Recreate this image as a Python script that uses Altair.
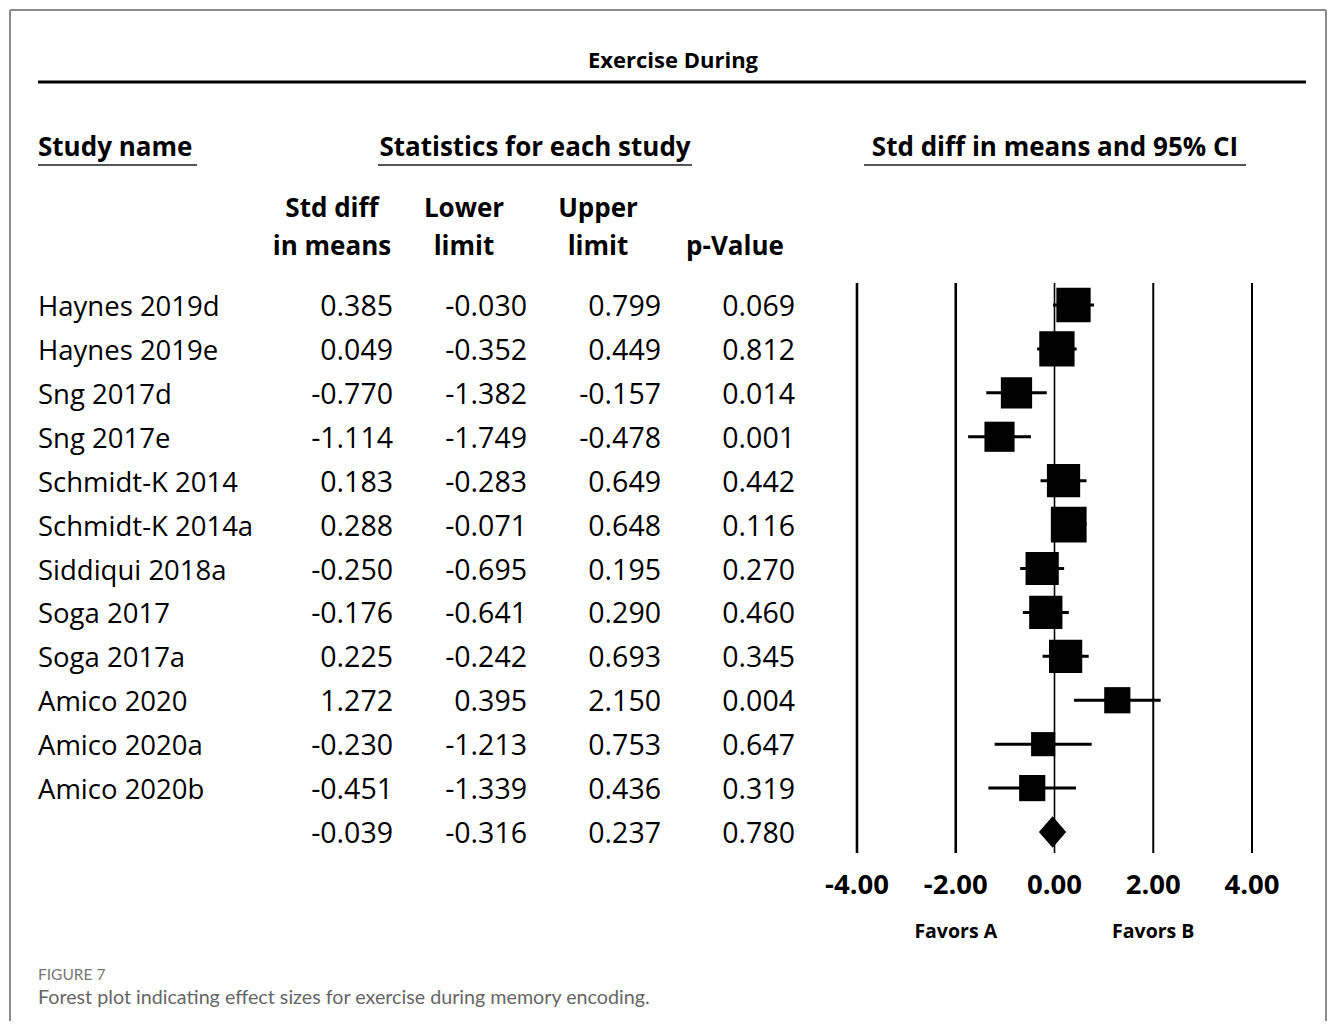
import altair as alt
import pandas as pd

# ---------------- data ----------------
studies = ["Haynes 2019d", "Haynes 2019e", "Sng 2017d", "Sng 2017e", "Schmidt-K 2014",
           "Schmidt-K 2014a", "Siddiqui 2018a", "Soga 2017", "Soga 2017a", "Amico 2020",
           "Amico 2020a", "Amico 2020b"]
std_diff = [0.385, 0.049, -0.770, -1.114, 0.183, 0.288, -0.250, -0.176, 0.225, 1.272, -0.230, -0.451]
lower = [-0.030, -0.352, -1.382, -1.749, -0.283, -0.071, -0.695, -0.641, -0.242, 0.395, -1.213, -1.339]
upper = [0.799, 0.449, -0.157, -0.478, 0.649, 0.648, 0.195, 0.290, 0.693, 2.150, 0.753, 0.436]
p_value = [0.069, 0.812, 0.014, 0.001, 0.442, 0.116, 0.270, 0.460, 0.345, 0.004, 0.647, 0.319]
# relative weights (%)
weights = [10.1, 10.7, 8.4, 7.8, 9.5, 11.0, 9.5, 9.5, 9.5, 5.9, 5.0, 5.9]

summary_est = -0.039
summary_lower = -0.316
summary_upper = 0.237
summary_p = 0.780

tick_values = [-4, -2, 0, 2, 4]
tick_labels = ["-4.00", "-2.00", "0.00", "2.00", "4.00"]
favor_values = [-2, 2]
favor_labels = ["Favors A", "Favors B"]

title_text = "Exercise During"
caption_label = "FIGURE 7"
caption_text = "Forest plot indicating effect sizes for exercise during memory encoding."

# ---------------- layout constants ----------------
W, H = 1319, 1013
FONT = "Open Sans"
ROW_RANGE = [297, 824]
X_RANGE = [849, 1244]

def fmt(v):
    return f"{v:.3f}"

n = len(studies)
df = pd.DataFrame({
    "row": list(range(n)),
    "study": studies,
    "est": std_diff,
    "lo": lower,
    "hi": upper,
    "p": p_value,
    "w": weights,
})
df["est_s"] = [fmt(v) for v in df["est"]]
df["lo_s"] = [fmt(v) for v in df["lo"]]
df["hi_s"] = [fmt(v) for v in df["hi"]]
df["p_s"] = [fmt(v) for v in df["p"]]

summ = pd.DataFrame({
    "row": [n], "study": [""],
    "est_s": [fmt(summary_est)], "lo_s": [fmt(summary_lower)],
    "hi_s": [fmt(summary_upper)], "p_s": [fmt(summary_p)],
})
table = pd.concat([df[["row", "study", "est_s", "lo_s", "hi_s", "p_s"]], summ], ignore_index=True)

HALF = 0.36
diamond = pd.DataFrame({
    "x": [summary_lower, summary_est, summary_upper],
    "y1": [n, n - HALF, n],
    "y2": [n, n + HALF, n],
})

ticks = pd.DataFrame({"t": tick_values, "lab": tick_labels,
                      "sw": [2.6, 2.6, 1.6, 2.0, 2.0]})
favors = pd.DataFrame({"t": favor_values, "lab": favor_labels})

xs = alt.Scale(domain=[-4, 4], range=X_RANGE, zero=False, nice=False)
ys = alt.Scale(domain=[0, n], range=ROW_RANGE, zero=False, nice=False)

base = alt.Chart(df)

# --- forest plot ---
grid = alt.Chart(ticks).mark_rule(color="black").encode(
    x=alt.X("t:Q", scale=xs, axis=None), y=alt.value(275), y2=alt.value(845),
    strokeWidth=alt.StrokeWidth("sw:Q", scale=None, legend=None))
ci = base.mark_rule(color="black", strokeWidth=3).encode(
    x=alt.X("lo:Q", scale=xs, axis=None), x2="hi:Q",
    y=alt.Y("row:Q", scale=ys, axis=None))
boxes = base.mark_square(color="black", filled=True, opacity=1).encode(
    x=alt.X("est:Q", scale=xs, axis=None),
    y=alt.Y("row:Q", scale=ys, axis=None),
    size=alt.Size("w:Q", scale=alt.Scale(domain=[0, 11.0], range=[0, 1280]), legend=None))
dia = alt.Chart(diamond).mark_area(color="black", opacity=1).encode(
    x=alt.X("x:Q", scale=xs, axis=None),
    y=alt.Y("y1:Q", scale=ys, axis=None), y2="y2:Q")
tick_text = alt.Chart(ticks).mark_text(font=FONT, fontSize=27.5, fontWeight="bold",
                                       baseline="alphabetic", align="center").encode(
    x=alt.X("t:Q", scale=xs, axis=None), y=alt.value(886), text="lab:N")
fav_text = alt.Chart(favors).mark_text(font=FONT, fontSize=19.5, fontWeight="bold",
                                       baseline="alphabetic", align="center").encode(
    x=alt.X("t:Q", scale=xs, axis=None), y=alt.value(930), text="lab:N")

# --- table ---
def col(field, xpos, align, size):
    return alt.Chart(table).mark_text(font=FONT, fontSize=size, align=align,
                                      baseline="alphabetic", dy=11, color="black").encode(
        x=alt.value(xpos), y=alt.Y("row:Q", scale=ys, axis=None), text=f"{field}:N")

name_col = col("study", 30, "left", 27.5)
est_col = col("est_s", 385, "right", 28.5)
lo_col = col("lo_s", 519, "right", 28.5)
hi_col = col("hi_s", 653, "right", 28.5)
p_col = col("p_s", 787, "right", 28.5)

def label(txt, x, y, size=26, align="center", weight="bold", color="black", font=FONT):
    return alt.Chart(pd.DataFrame({"t": [txt]})).mark_text(
        font=font, fontSize=size, fontWeight=weight, align=align,
        baseline="alphabetic", color=color).encode(
        x=alt.value(x), y=alt.value(y), text="t:N")

def hline(x1, x2, y, width, color):
    return alt.Chart(pd.DataFrame({"a": [0]})).mark_rule(color=color, strokeWidth=width).encode(
        x=alt.value(x1), x2=alt.value(x2), y=alt.value(y))

def vline(x, y1, y2, width, color):
    return alt.Chart(pd.DataFrame({"a": [0]})).mark_rule(color=color, strokeWidth=width).encode(
        x=alt.value(x), y=alt.value(y1), y2=alt.value(y2))

headers = [
    label(title_text, 665, 60, size=22),
    hline(30, 1298, 74, 3, "black"),
    label("Study name", 30, 148, align="left"),
    hline(30, 189, 157, 2, "#555555"),
    label("Statistics for each study", 527, 148),
    hline(370, 684, 157, 2, "#555555"),
    label("Std diff in means and 95% CI", 1047, 148),
    hline(856, 1238, 157, 2, "#555555"),
    label("Std diff", 324, 209),
    label("in means", 324, 247),
    label("Lower", 456, 209),
    label("limit", 456, 247),
    label("Upper", 590, 209),
    label("limit", 590, 247),
    label("p-Value", 727, 247),
    label(caption_label, 30, 972, size=15.5, align="left", weight="normal", color="#777777", font="Lato"),
    label(caption_text, 30, 996, size=19.7, align="left", weight="normal", color="#666666", font="Lato"),
    # frame
    vline(2, 2, H, 2, "#8a8a8a"),
    hline(2, W - 1, 2, 2, "#8a8a8a"),
    vline(W - 1, 2, H, 2, "#8a8a8a"),
]

chart = alt.layer(
    grid, ci, boxes, dia, tick_text, fav_text,
    name_col, est_col, lo_col, hi_col, p_col,
    *headers,
).properties(
    width=W, height=H, padding=0,
    autosize=alt.AutoSizeParams(type="none"),
    background="white",
).configure_view(strokeWidth=0)

chart.save("out.html", embed_options={"renderer": "svg", "actions": False})
